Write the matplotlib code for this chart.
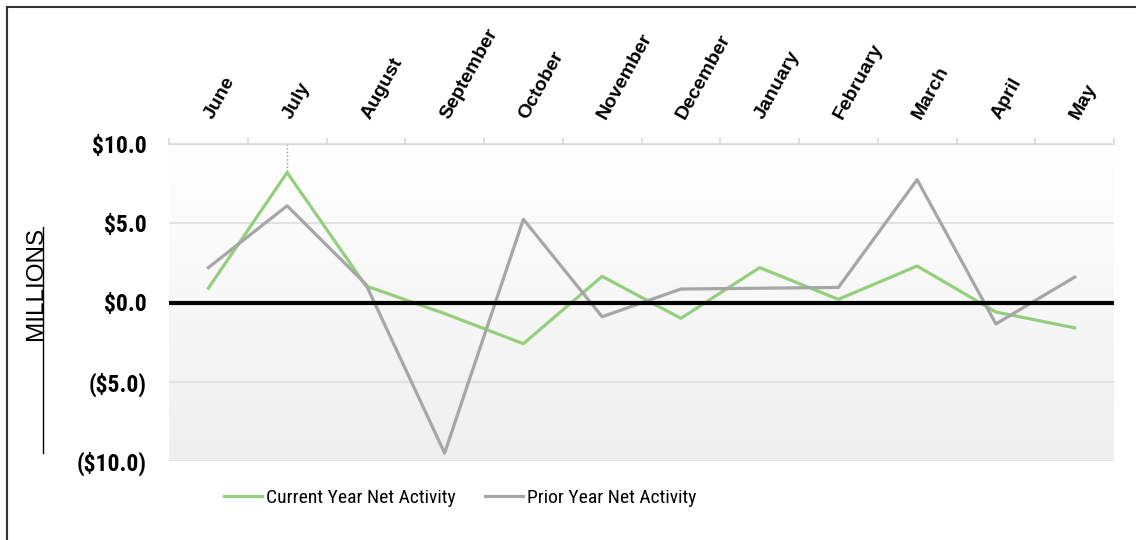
import numpy as np
import matplotlib
matplotlib.use("Agg")
import matplotlib.pyplot as plt
from matplotlib.lines import Line2D
from matplotlib.ticker import FixedLocator, FuncFormatter
import logging
logging.getLogger('matplotlib.font_manager').setLevel(logging.ERROR)

months = ["June", "July", "August", "September", "October", "November",
          "December", "January", "February", "March", "April", "May"]
current_year = [0.9, 8.2, 1.05, -0.7, -2.6, 1.65, -1.0, 2.2, 0.2, 2.3, -0.6, -1.6]
prior_year = [2.2, 6.1, 1.15, -9.5, 5.25, -0.9, 0.85, 0.9, 0.95, 7.75, -1.35, 1.6]
y_ticks = [-10, -5, 0, 5, 10]

plt.rcParams['font.family'] = ['Liberation Sans', 'DejaVu Sans']
NARROW = ['Arial Narrow', 'Liberation Sans Narrow', 'Roboto Condensed', 'PT Sans Narrow',
          'Archivo Narrow', 'Liberation Sans']

fig = plt.figure(figsize=(11.36, 5.4), dpi=100)
ax = fig.add_axes([169/1136, 1-461/540, (1114-169)/1136, (461-144)/540])

x = np.arange(len(months))
ax.set_xlim(-0.5, len(months) - 0.5)
ax.set_ylim(-10, 10)

# gradient background
grad = np.linspace(0, 1, 256).reshape(-1, 1)
ax.imshow(grad, extent=[-0.5, len(months) - 0.5, -10, 10], aspect='auto',
          cmap=matplotlib.colors.LinearSegmentedColormap.from_list('g', ['#ffffff', '#efefef']),
          origin='upper', zorder=0)

for t in y_ticks:
    ax.axhline(t, color='#dedede', lw=1.2, zorder=1)

ax.plot(x, current_year, color='#95cf7e', lw=2.3, zorder=3, label='Current Year Net Activity')
ax.plot(x, prior_year, color='#a6a6a6', lw=2.3, zorder=3, label='Prior Year Net Activity')
ax.axhline(0, color='black', lw=3, zorder=4)
ax.plot([x[1], x[1]], [10, current_year[1]], color='#999999', lw=1, ls=':', zorder=2)

for s in ['left', 'right', 'bottom']:
    ax.spines[s].set_visible(False)
ax.spines['top'].set_color('#d9d9d9')
ax.spines['top'].set_linewidth(1.2)

ax.xaxis.tick_top()
ax.set_xticks(x)
ax.set_xticklabels(months, rotation=61, ha='left', va='center', rotation_mode='anchor',
                   fontsize=14, fontweight='bold')
ax.tick_params(axis='x', which='major', length=0, pad=19)
ax.xaxis.set_minor_locator(FixedLocator(np.arange(-0.5, len(months), 1)))
ax.tick_params(axis='x', which='minor', length=4, color='#d9d9d9', width=1.2, top=True, bottom=False)

def fmt(v, pos):
    if v < 0:
        return "(${:.1f})".format(abs(v))
    return "${:.1f}".format(v)

ax.set_yticks(y_ticks)
ax.yaxis.set_major_formatter(FuncFormatter(fmt))
ax.tick_params(axis='y', length=0, pad=16)
for lbl in ax.get_yticklabels():
    lbl.set_fontweight('bold')
    lbl.set_family(NARROW)
    lbl.set_fontsize(17)

fig.text(36/1136, 1-283/540, "MILLIONS", rotation=90, ha='center', va='center', fontsize=17.5)
fig.add_artist(Line2D([43/1136, 43/1136], [1-227/540, 1-453/540], color='black', lw=1))

# figure border (top and left)
fig.add_artist(Line2D([7/1136, 7/1136], [0, 1-7/540], color='#333333', lw=1.5))
fig.add_artist(Line2D([7/1136, 1], [1-7/540, 1-7/540], color='#333333', lw=1.5))

handles, labels = ax.get_legend_handles_labels()
fig.legend(handles, labels, loc='center', bbox_to_anchor=(460/1136, 1-498/540), ncol=2,
           frameon=False, handlelength=1.95, handletextpad=0.2, columnspacing=1.5,
           prop={'family': NARROW, 'size': 14})

fig.savefig("out.png", dpi=100)
